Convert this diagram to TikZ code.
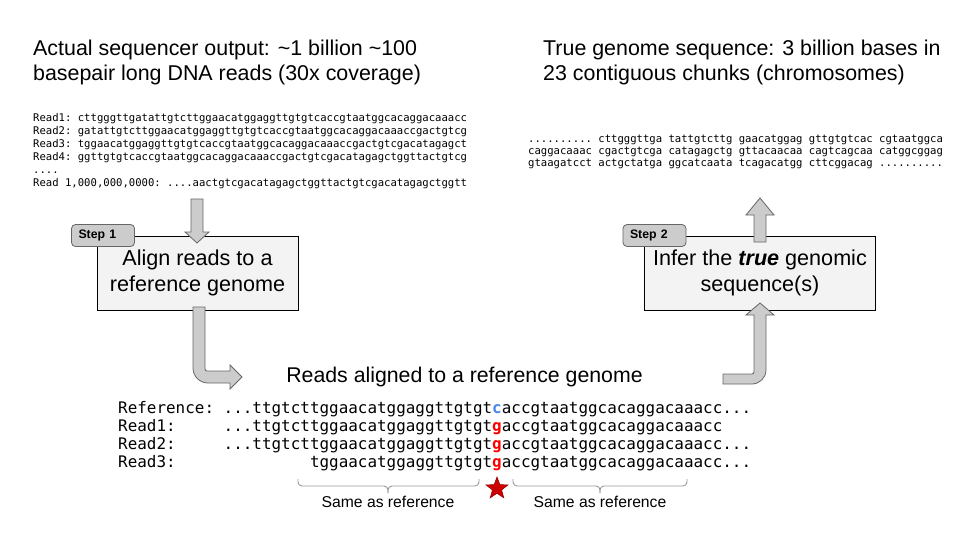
\documentclass[tikz,border=0pt]{standalone}
\usepackage{fontspec}
\setmainfont{Liberation Sans}
\setmonofont{DejaVu Sans Mono}
\usetikzlibrary{shapes.geometric}
\definecolor{arrowfill}{HTML}{CCCCCC}
\definecolor{arrowline}{HTML}{666666}
\definecolor{boxfill}{HTML}{F3F3F3}
\definecolor{refblue}{HTML}{4A86E8}
\definecolor{mutred}{HTML}{FF0000}
\definecolor{bracegray}{HTML}{999999}
\definecolor{starred}{HTML}{CC0000}
\definecolor{stardark}{HTML}{990000}
\begin{document}
\begin{tikzpicture}[x=1pt,y=-1pt,
  title/.style={anchor=base west, inner sep=0, font=\fontsize{21.4}{25}\selectfont},
  readtxt/.style={anchor=base west, inner sep=0, font=\ttfamily\fontsize{10.6}{12.9}\selectfont},
  aligntxt/.style={anchor=base west, inner sep=0, font=\ttfamily\fontsize{15.93}{18}\selectfont},
  stepbox/.style={draw=black, fill=boxfill, line width=1pt, inner sep=0, align=center, font=\fontsize{21.6}{25.5}\selectfont},
  steptag/.style={draw=arrowline, fill=arrowfill, rounded corners=4pt, inner ysep=0, inner xsep=7pt, text width=49pt, align=left, minimum height=22pt, line width=0.8pt, font=\bfseries\fontsize{12.3}{14}\selectfont},
  blockarrow/.style={draw=arrowline, fill=arrowfill, line width=0.8pt, line join=miter},
  bracket/.style={draw=bracegray, line width=0.9pt, rounded corners=4pt},
  note/.style={anchor=base, inner sep=0, font=\fontsize{15.7}{18}\selectfont}
]
\useasboundingbox[fill=white] (0,0) rectangle (960,540);

% titles
\node[title] (t1a) at (33,55.7) {Actual sequencer output: \textasciitilde1 billion \textasciitilde100};
\node[title] (t1b) at (33,81) {basepair long DNA reads (30x coverage)};
\node[title] (t2a) at (543,55.7) {True genome sequence: 3 billion bases in};
\node[title] (t2b) at (543,81) {23 contiguous chunks (chromosomes)};

% reads
\node[readtxt] (r1) at (33,121.7) {Read1: cttgggttgatattgtcttggaacatggaggttgtgtcaccgtaatggcacaggacaaacc};
\node[readtxt] (r2) at (33,134.6) {Read2: gatattgtcttggaacatggaggttgtgtcaccgtaatggcacaggacaaaccgactgtcg};
\node[readtxt] (r3) at (33,147.5) {Read3: tggaacatggaggttgtgtcaccgtaatggcacaggacaaaccgactgtcgacatagagct};
\node[readtxt] (r4) at (33,160.4) {Read4: ggttgtgtcaccgtaatggcacaggacaaaccgactgtcgacatagagctggttactgtcg};
\node[readtxt] (rd) at (33,173.3) {....};
\node[readtxt] (rn) at (33,186.2) {Read 1,000,000,0000: ....aactgtcgacatagagctggttactgtcgacatagagctggtt};

% genome
\node[readtxt] (g1) at (528,142.7) {.......... cttgggttga tattgtcttg gaacatggag gttgtgtcac cgtaatggca};
\node[readtxt] (g2) at (528,154.7) {caggacaaac cgactgtcga catagagctg gttacaacaa cagtcagcaa catggcggag};
\node[readtxt] (g3) at (528,166.7) {gtaagatcct actgctatga ggcatcaata tcagacatgg cttcggacag ..........};

% step boxes
\node[stepbox, minimum width=201pt, minimum height=74pt] (s1) at (197.5,273) {Align reads to a\\reference genome};
\node[stepbox, minimum width=231pt, minimum height=74pt] (s2) at (760,273) {Infer the \textbf{\textit{true}} genomic\\sequence(s)};

% arrows
\path[blockarrow] (191,199) -- (191,232) -- (185,232) -- (197,243) -- (209,232) -- (203,232) -- (203,199) -- cycle;
\path[blockarrow] (193,307) -- (193,368) .. controls (193,376.3) and (199.7,383) .. (208,383) -- (230,383) -- (230,389) -- (242,377) -- (230,365) -- (230,371) -- (207,371) .. controls (206,371) and (205,370) .. (205,369) -- (205,307) -- cycle;
\path[blockarrow] (754,242) -- (754,215) -- (746,215) -- (760,198) -- (774,215) -- (766,215) -- (766,242) -- cycle;
\path[blockarrow] (723,374) -- (752,374) .. controls (753,374) and (754,373) .. (754,372) -- (754,315) -- (746,315) -- (760,303) -- (774,315) -- (766,315) -- (766,370) .. controls (766,377.7) and (759.7,384) .. (752,384) -- (723,384) -- cycle;

% tags
\node[steptag] (tag1) at (103,235.5) {Step 1};
\node[steptag] (tag2) at (654.5,235.5) {Step 2};

% alignment
\node[anchor=base, inner sep=0, font=\fontsize{21.3}{25}\selectfont] (alt) at (464.5,382.3) {Reads aligned to a reference genome};
\node[aligntxt] (aref) at (118,413.3) {Reference: ...ttgtcttggaacatggaggttgtgt\textcolor{refblue}{\textbf{c}}accgtaatggcacaggacaaacc...};
\node[aligntxt] (a1) at (118,431.5) {Read1:\hphantom{xxxxx}...ttgtcttggaacatggaggttgtgt\textcolor{mutred}{\textbf{g}}accgtaatggcacaggacaaacc};
\node[aligntxt] (a2) at (118,449.6) {Read2:\hphantom{xxxxx}...ttgtcttggaacatggaggttgtgt\textcolor{mutred}{\textbf{g}}accgtaatggcacaggacaaacc...};
\node[aligntxt] (a3) at (118,467.7) {Read3:\hphantom{xxxxxxxxxxxxxx}tggaacatggaggttgtgt\textcolor{mutred}{\textbf{g}}accgtaatggcacaggacaaacc...};

% braces
\draw[bracket] (298,479) -- (298,486) -- (388,486) -- (388,493);
\draw[bracket] (388,493) -- (388,486) -- (479,486) -- (479,479);
\draw[bracket] (513,479) -- (513,486) -- (600,486) -- (600,493);
\draw[bracket] (600,493) -- (600,486) -- (687,486) -- (687,479);
\node[star, star points=5, star point ratio=2.4, fill=starred, draw=stardark, line width=0.6pt, minimum size=23pt, inner sep=0] (mut) at (497,488.5) {};
\node[note] (n1) at (388,507.3) {Same as reference};
\node[note] (n2) at (600,507.3) {Same as reference};
\end{tikzpicture}
\end{document}
